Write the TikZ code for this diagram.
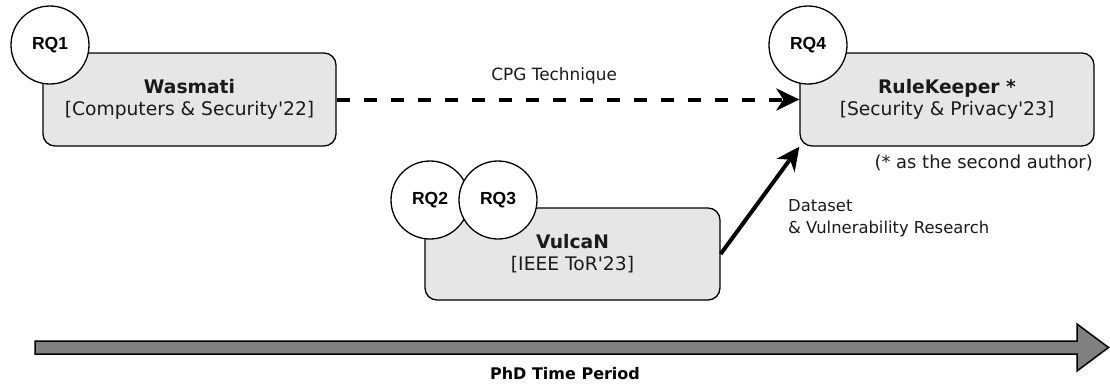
\documentclass[tikz,border=0pt]{standalone}
\usepackage{fontspec}
\setmainfont{DejaVu Sans}
\newfontfamily\rqfont{Liberation Sans}
\usetikzlibrary{arrows.meta}
\definecolor{boxfill}{HTML}{E6E6E6}
\definecolor{barfill}{HTML}{808080}
\definecolor{ink}{HTML}{1A1A1A}

\begin{document}
\begin{tikzpicture}[x=1pt,y=-1pt,
  paper/.style={draw=black, line width=1.3pt, fill=boxfill, rounded corners=12pt,
    inner sep=0pt, align=center, text=ink, font=\fontsize{18.7}{22}\selectfont},
  rq/.style={draw=black, line width=1.3pt, fill=white, circle, minimum size=78pt,
    inner sep=0pt, text=black, font=\rqfont\bfseries\fontsize{17.5}{20}\selectfont},
  link/.style={line width=4pt, -{Stealth[length=23pt,width=22pt,inset=7pt]}},
  linklabel/.style={inner sep=0pt, text=ink, font=\fontsize{16.9}{22}\selectfont},
]
\useasboundingbox (0,0) rectangle (1110,388);

% publication boxes
\node[paper, minimum width=293pt, minimum height=93pt] (wasmati) at (189.5,99.5)
  {\textbf{Wasmati}\\{[}Computers \& Security\textquotesingle 22{]}};
\node[paper, minimum width=295pt, minimum height=92pt] (vulcan) at (572.5,254)
  {\textbf{VulcaN}\\{[}IEEE ToR\textquotesingle 23{]}};
\node[paper, minimum width=294pt, minimum height=93pt] (rulekeeper) at (947,99.5)
  {\textbf{RuleKeeper *}\\{[}Security \& Privacy\textquotesingle 23{]}};

% research question badges
\node[rq] (rq1) at (50,45) {RQ1};
\node[rq] (rq2) at (430,200) {RQ2};
\node[rq] (rq3) at (498,200) {RQ3};
\node[rq] (rq4) at (808,45) {RQ4};

% footnote under RuleKeeper
\node[linklabel, anchor=east, font=\fontsize{17.9}{20}\selectfont] (note) at (1093,163)
  {(* as the second author)};

% links between publications
\draw[link, dash pattern=on 13pt off 14pt] (wasmati.east) -- (rulekeeper.west)
  node[linklabel, pos=0.47, yshift=23.5pt] (cpg) {CPG Technique};
\draw[link] (vulcan.east) -- (rulekeeper.south west);
\node[linklabel, anchor=west, align=left, font=\fontsize{16.4}{22}\selectfont] (dataset)
  at (788,218) {Dataset\\\& Vulnerability Research};

% timeline arrow
\draw[fill=barfill, line width=1.5pt, line join=miter]
  (35,341) -- (1077,341) -- (1077,324) -- (1108.5,347.5) -- (1077,371)
  -- (1077,354) -- (35,354) -- cycle;
\node[inner sep=0pt, font=\bfseries\fontsize{16}{20}\selectfont] (period) at (565,374)
  {PhD Time Period};
\end{tikzpicture}
\end{document}
